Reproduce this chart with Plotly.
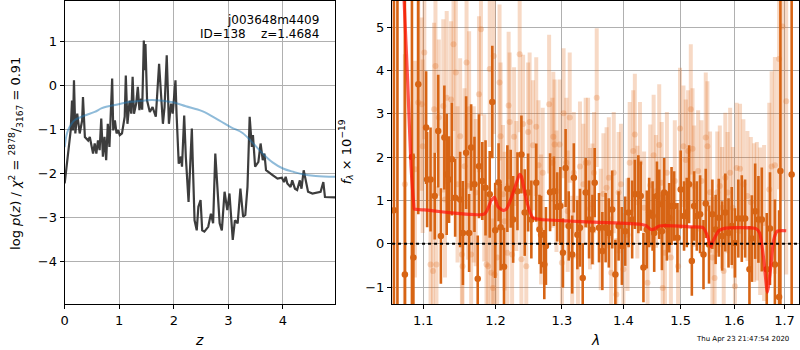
import plotly.graph_objects as go
import math

# ---------------- Left panel: log p(z) ----------------
z_pz = [0.00, 0.06, 0.11, 0.134, 0.15, 0.17, 0.195, 0.23, 0.275, 0.32, 0.335, 0.37, 0.43, 0.46, 0.49,
        0.52, 0.55, 0.58, 0.61, 0.64, 0.67, 0.70, 0.73, 0.76, 0.79, 0.82, 0.87, 0.89, 0.92, 0.95,
        0.98, 1.01, 1.05, 1.10, 1.12, 1.15, 1.19, 1.22, 1.245, 1.27, 1.31, 1.34, 1.37, 1.40, 1.42,
        1.45, 1.47, 1.48, 1.51, 1.56, 1.61, 1.67, 1.73, 1.76, 1.80, 1.83, 1.87, 1.91, 1.95, 1.98,
        2.03, 2.05, 2.09, 2.13, 2.15, 2.19, 2.22, 2.27, 2.29, 2.33, 2.35, 2.38, 2.42, 2.45, 2.49,
        2.52, 2.56, 2.63, 2.68, 2.72, 2.76, 2.80, 2.84, 2.88, 2.93, 2.98, 3.02, 3.08, 3.12, 3.17,
        3.22, 3.27, 3.31, 3.35, 3.39, 3.43, 3.45, 3.49, 3.55, 3.59, 3.63, 3.66, 3.69, 3.81, 3.90,
        3.98, 4.02, 4.05, 4.08, 4.14, 4.17, 4.22, 4.26, 4.31, 4.34, 4.38, 4.41, 4.46, 4.54, 4.69,
        4.74, 4.77, 4.96]
log_pz = [-2.23, -1.55, -1.02, -0.34, -1.02, 0.12, -1.09, -0.64, -1.09, -0.79, -0.26, -1.17, -1.25, -1.17, -1.40,
          -1.55, -1.32, -1.55, -1.25, -1.47, -0.75, -1.62, -1.17, -1.70, -0.87, -1.40, 0.16, -1.02, -0.79, -1.09,
          -1.02, -1.13, -1.09, -0.71, 0.23, -0.87, -0.34, -0.64, 0.20, -0.64, -0.41, -0.03, -0.56, -0.30, -0.55,
          1.03, 0.35, 0.95, -0.34, -0.60, -0.49, -0.71, 0.50, -0.03, -0.87, -0.49, 0.69, -0.87, -0.41, -0.64,
          0.12, -0.64, -1.78, -1.62, -1.85, -0.68, -1.62, -2.65, -2.16, -0.98, -1.85, -3.07, -3.30, -2.76, -2.61,
          -3.30, -3.33, -3.22, -2.92, -3.14, -1.55, -2.31, -3.14, -3.30, -2.42, -2.84, -2.46, -3.52, -3.07, -3.14,
          -2.35, -2.99, -2.95, -2.31, -0.71, -1.40, -1.13, -1.85, -1.74, -1.32, -1.70, -1.55, -1.93, -2.04, -2.12,
          -2.10, -2.20, -2.08, -2.23, -2.31, -2.16, -2.35, -2.38, -2.16, -2.35, -1.93, -2.12, -2.42, -2.46, -2.42,
          -2.20, -2.54, -2.55]

z_prior = [0.00, 0.03, 0.06, 0.12, 0.18, 0.37, 0.55, 0.67, 0.76, 0.92, 1.22, 1.47, 1.61, 1.98, 2.22,
           2.52, 2.83, 3.05, 3.26, 3.44, 3.63, 3.81, 4.00, 4.20, 4.36, 4.60, 4.96]
log_prior = [-1.40, -1.15, -1.02, -0.88, -0.79, -0.68, -0.60, -0.52, -0.48, -0.44, -0.37, -0.34, -0.33, -0.38, -0.47,
             -0.58, -0.79, -0.95, -1.08, -1.30, -1.55, -1.75, -1.89, -1.97, -2.02, -2.06, -2.08]

# ---------------- Right panel: spectrum ----------------
# dark (binned) spectrum
wave_dark = [1.0618, 1.0663, 1.0759, 1.0851, 1.0870, 1.0934, 1.1038, 1.1051, 1.1097, 1.1153, 1.1200, 1.1236, 1.1283,
             1.1315, 1.1347, 1.1385, 1.1431, 1.1500, 1.1538, 1.1583, 1.1625, 1.1653, 1.1700, 1.1746, 1.1764,
             1.1811, 1.1857, 1.1917, 1.1954, 1.1996, 1.2045, 1.2074, 1.2124, 1.2173, 1.2222, 1.2258, 1.2322,
             1.2381, 1.2430, 1.2481, 1.2530, 1.2604, 1.2653, 1.2678, 1.2727, 1.2752, 1.2816, 1.2875, 1.2926,
             1.2975, 1.3016, 1.3058, 1.3107, 1.3162, 1.3188, 1.3244, 1.3286, 1.3330, 1.3378, 1.3432, 1.3487,
             1.3524, 1.3594, 1.3649, 1.3703, 1.3756, 1.3812, 1.3865, 1.3919, 1.3974, 1.4030, 1.4088, 1.4148,
             1.4194, 1.4254, 1.4295, 1.4342, 1.4400, 1.4441, 1.4501, 1.4529, 1.4577, 1.4617, 1.4665, 1.4705,
             1.4753, 1.4794, 1.4836, 1.4882, 1.4942, 1.5000, 1.5061, 1.5110, 1.5153, 1.5203, 1.5245, 1.5295,
             1.5355, 1.5418, 1.5460, 1.5521, 1.5584, 1.5645, 1.5705, 1.5768, 1.5829, 1.5890, 1.5952, 1.6013,
             1.6079, 1.6146, 1.6211, 1.6296, 1.6343, 1.6408, 1.6473, 1.6540, 1.6639, 1.6704, 1.6803, 1.6888,
             1.6915, 1.7146]
flux_dark = [0.77, -3.0, -0.71, 2.0, -0.32, 3.68, 2.68, 1.48, 1.48, 1.10, 2.60, 0.18, 2.45,
             1.60, 1.48, 1.95, 1.06, 1.02, 0.25, 2.10, 0.25, 2.22, 1.37, -0.81, 1.79,
             1.45, 1.29, 1.14, 3.27, 0.31, 1.42, 0.38, -0.53, 1.27, 1.27, 0.56, 1.21,
             2.06, 0.72, 1.18, 0.56, 1.41, 0.33, 0.21, -0.48, -0.05, 1.19, 1.21, 0.85,
             0.87, -0.21, 1.75, 0.41, -0.25, 1.52, 0.21, 0.37, -0.79, 1.18, 0.56, 0.33,
             1.41, 0.37, -0.17, 0.37, 0.25, 0.79, -0.71, 0.41, -0.05, 0.29, 0.72, 0.56,
             1.14, 1.14, 1.10, -0.55, 0.33, 0.72, 0.64, 0.25, 1.10, 0.91, 0.29, 1.18,
             0.41, 0.60, 0.87, 0.87, 0.14, 1.25, 0.64, 0.72, 1.37, -0.40, 0.87, 0.64,
             0.68, -0.25, 0.93, -0.02, 0.68, 0.33, 0.60, 0.18, 0.72, 0.25, 0.41, 0.02,
             0.58, 0.58, 0.58, -0.59, 0.12, 0.75, 0.56, 0.56, -0.59, 0.35, -0.48, -1.23,
             1.68, 1.60]
err_dark = [10.0, 10.0, 10.0, 10.0, 2.4, 3.0, 1.3, 1.1, 1.2, 1.0, 1.3, 1.1, 1.2,
            1.4, 1.0, 1.3, 0.9, 1.1, 1.2, 1.3, 0.9, 1.0, 1.1, 1.0, 1.2,
            0.9, 1.1, 1.0, 1.3, 1.1, 0.9, 1.0, 0.9, 1.0, 0.9, 1.0, 0.9,
            0.9, 1.0, 0.9, 0.9, 0.9, 0.8, 0.9, 0.8, 0.9, 0.9, 0.8, 0.8,
            0.9, 0.8, 0.9, 0.8, 0.9, 0.8, 0.8, 0.9, 0.8, 0.8, 0.9, 0.8,
            0.8, 0.8, 0.9, 0.8, 0.8, 0.9, 0.8, 0.8, 0.9, 0.8, 0.8, 0.9,
            0.8, 0.9, 0.8, 0.8, 0.9, 0.8, 0.8, 0.9, 0.8, 0.8, 0.9, 0.8,
            0.8, 0.8, 0.9, 0.8, 0.8, 0.9, 0.8, 0.8, 0.9, 0.8, 0.8, 0.8,
            0.9, 0.8, 0.8, 0.9, 0.8, 0.8, 0.9, 0.8, 0.9, 0.8, 0.9, 0.8,
            0.9, 1.0, 0.9, 1.0, 1.0, 1.1, 1.0, 1.2, 1.3, 1.3, 1.5, 2.0,
            4.5, 10.0]

# light (unbinned / second PA) spectrum
wave_light = [1.0759, 1.0891, 1.0934, 1.0979, 1.0992, 1.1014, 1.1097, 1.1130, 1.1144, 1.1163, 1.1176, 1.1208,
              1.1269, 1.1292, 1.1315, 1.1375, 1.1408, 1.1440, 1.1464, 1.1500, 1.1524, 1.1533, 1.1561, 1.1589,
              1.1607, 1.1625, 1.1653, 1.1690, 1.1718, 1.1764, 1.1792, 1.1839, 1.1871, 1.1894, 1.1917, 1.1940,
              1.1964, 1.1975, 1.1986, 1.2025, 1.2059, 1.2074, 1.2109, 1.2133, 1.2173, 1.2192, 1.2207, 1.2243,
              1.2272, 1.2306, 1.2355, 1.2381, 1.2406, 1.2454, 1.2481, 1.2504, 1.2554, 1.2604, 1.2638, 1.2678,
              1.2703, 1.2801, 1.2852, 1.2866, 1.2886, 1.2915, 1.2964, 1.3000, 1.3026, 1.3070, 1.3091, 1.3123,
              1.3162, 1.3188, 1.3253, 1.3286, 1.3341, 1.3378, 1.3416, 1.3448, 1.3487, 1.3513, 1.3557, 1.3622,
              1.3666, 1.3719, 1.3756, 1.3795, 1.3838, 1.3881, 1.3919, 1.3958, 1.4000, 1.4070, 1.4106, 1.4166,
              1.4194, 1.4237, 1.4282, 1.4353, 1.4413, 1.4459, 1.4519, 1.4560, 1.4617, 1.4661, 1.4678, 1.4719,
              1.4753, 1.4824, 1.4894, 1.4953, 1.4988, 1.5050, 1.5092, 1.5135, 1.5184, 1.5216, 1.5245, 1.5319,
              1.5381, 1.5460, 1.5491, 1.5540, 1.5584, 1.5626, 1.5676, 1.5724, 1.5768, 1.5798, 1.5829, 1.5872,
              1.5921, 1.5972, 1.6013, 1.6047, 1.6112, 1.6177, 1.6256, 1.6323, 1.6388, 1.6441, 1.6507, 1.6586,
              1.6690, 1.6738, 1.6803, 1.6888, 1.6955, 1.7034]
flux_light = [1.37, 1.72, 3.26, 3.22, 2.25, 4.41, -0.48, -0.63, 3.10, 4.10, -0.48, 2.91,
              3.18, 1.02, 3.37, 3.33, 4.60, 3.95, 1.37, 2.48, -0.25, -0.52, 1.79, 4.18,
              1.33, 3.10, -0.25, 1.37, 1.18, 3.45, 4.95, 1.29, -0.48, -0.52, 4.03, -0.67,
              -1.02, 4.33, -0.71, -0.32, 3.72, 2.48, 1.14, 0.52, -0.21, 3.19, 2.81, -0.25,
              2.47, 1.33, 4.37, -0.36, 2.76, -0.52, 2.58, 2.81, 2.27, 2.70, 1.81, 0.56,
              1.64, 3.22, 1.87, 2.47, 2.29, 1.21, 2.29, -0.44, 3.01, 1.87, 0.75, 2.91,
              -0.29, 1.64, -0.29, 1.78, 1.37, 1.87, 1.87, 0.81, 0.91, 1.64, 3.37, 0.33,
              1.15, 1.29, 1.52, -0.67, 1.64, -1.17, 1.18, 1.37, -0.59, 0.21, 1.87, 2.14,
              2.52, 0.96, 1.87, 0.83, -0.90, 1.35, 2.04, 1.21, 2.28, 1.41, -1.02, -0.21,
              1.64, -0.32, 1.45, -0.52, 2.66, 2.25, 1.93, 2.14, 3.10, 2.19, 1.33, 1.68,
              1.45, 2.45, 2.25, 1.19, -0.32, -0.79, 1.19, 1.33, 0.83, -0.63, 1.52, 1.18,
              1.64, 0.83, -0.98, 1.75, 1.73, 1.37, 1.10, 0.96, 0.72, 0.75, 0.52, 0.48,
              1.25, 1.78, 1.81, 4.26, 5.01, 3.29]
err_light = [3.0, 2.5, 2.5, 2.0, 2.0, 2.0, 2.0, 1.8, 2.0, 2.0, 1.8, 1.8,
             2.0, 1.8, 2.0, 1.8, 2.0, 2.0, 1.8, 1.8, 1.7, 1.8, 1.8, 2.0,
             1.7, 1.8, 1.7, 1.8, 1.7, 1.8, 2.0, 1.7, 1.7, 1.6, 1.8, 1.6,
             1.6, 1.8, 1.6, 1.6, 1.8, 1.7, 1.6, 1.6, 1.6, 1.7, 1.6, 1.6,
             1.6, 1.5, 1.8, 1.5, 1.6, 1.5, 1.6, 1.6, 1.5, 1.6, 1.5, 1.5,
             1.5, 1.6, 1.5, 1.5, 1.5, 1.4, 1.5, 1.4, 1.5, 1.5, 1.4, 1.5,
             1.4, 1.4, 1.4, 1.5, 1.4, 1.5, 1.5, 1.4, 1.4, 1.4, 1.6, 1.4,
             1.4, 1.4, 1.4, 1.3, 1.4, 1.3, 1.4, 1.4, 1.3, 1.3, 1.4, 1.4,
             1.4, 1.3, 1.4, 1.3, 1.3, 1.4, 1.4, 1.3, 1.4, 1.4, 1.3, 1.3,
             1.4, 1.3, 1.4, 1.3, 1.4, 1.4, 1.4, 1.4, 1.5, 1.4, 1.4, 1.4,
             1.4, 1.5, 1.5, 1.4, 1.4, 1.4, 1.4, 1.4, 1.4, 1.4, 1.5, 1.4,
             1.5, 1.4, 1.4, 1.5, 1.5, 1.5, 1.5, 1.5, 1.6, 1.6, 1.7, 1.8,
             2.0, 2.2, 2.5, 3.0, 4.0, 4.0]

# best-fit model
wave_model = [1.0740, 1.0752, 1.0796, 1.0839, 1.0874, 1.0882, 1.0926, 1.1014, 1.1843, 1.1940, 1.1986, 1.2034,
              1.2109, 1.2158, 1.2232, 1.2306, 1.2355, 1.2381, 1.2430, 1.2504, 1.2554, 1.2678, 1.3508, 1.4295,
              1.4383, 1.4471, 1.4529, 1.4617, 1.5184, 1.5413, 1.5491, 1.5553, 1.5613, 1.5705, 1.5829, 1.6425,
              1.6496, 1.6580, 1.6651, 1.6721, 1.6779, 1.6851, 1.7034]
flux_model = [6.00, 5.49, 3.72, 1.79, 0.92, 0.80, 0.79, 0.78, 0.69, 1.00, 1.07, 0.86,
              0.77, 0.80, 1.06, 1.40, 1.60, 1.55, 1.18, 0.75, 0.60, 0.56, 0.50, 0.45,
              0.42, 0.33, 0.34, 0.41, 0.39, 0.37, 0.18, -0.07, 0.10, 0.30, 0.36, 0.35,
              0.25, -0.37, -1.12, -0.52, 0.09, 0.29, 0.30]

x_ticks_right = [1.1, 1.2, 1.3, 1.4, 1.5, 1.6, 1.7]
x_ticks_left = [0, 1, 2, 3, 4]
y_ticks_left = [-4, -3, -2, -1, 0, 1]
y_ticks_right = [-1, 0, 1, 2, 3, 4, 5]

DARK = "rgb(215,100,20)"
LIGHT = "rgba(225,110,30,0.26)"

fig = go.Figure()

# left panel
fig.add_trace(go.Scatter(x=z_pz, y=log_pz, mode="lines", line=dict(color="rgba(45,45,45,0.92)", width=2.2),
                         xaxis="x", yaxis="y", showlegend=False, hoverinfo="skip"))
fig.add_trace(go.Scatter(x=z_prior, y=log_prior, mode="lines", line=dict(color="rgba(31,119,180,0.5)", width=2, shape="spline"),
                         xaxis="x", yaxis="y", showlegend=False, hoverinfo="skip"))

# right panel
fig.add_trace(go.Scatter(x=wave_light, y=flux_light, mode="markers",
                         marker=dict(color=LIGHT, size=6),
                         error_y=dict(type="data", array=err_light, color=LIGHT, thickness=4, width=0),
                         xaxis="x2", yaxis="y2", showlegend=False, hoverinfo="skip"))
fig.add_trace(go.Scatter(x=wave_dark, y=flux_dark, mode="markers",
                         marker=dict(color=DARK, size=6.5),
                         error_y=dict(type="data", array=err_dark, color=DARK, thickness=2.6, width=0),
                         xaxis="x2", yaxis="y2", showlegend=False, hoverinfo="skip"))
fig.add_trace(go.Scatter(x=wave_model, y=flux_model, mode="lines",
                         line=dict(color="rgba(255,20,10,0.72)", width=3.2, shape="spline", smoothing=0.6),
                         xaxis="x2", yaxis="y2", showlegend=False, hoverinfo="skip"))

fig.add_shape(type="line", xref="x2 domain", yref="y2", x0=0, x1=1, y0=0, y1=0,
              line=dict(color="black", width=2, dash="dot"), layer="above")

ax_common = dict(showline=True, linecolor="black", linewidth=1.2, mirror=True,
                 showgrid=True, gridcolor="#b0b0b0", gridwidth=1,
                 ticks="outside", ticklen=4, tickcolor="black", tickwidth=1,
                 zeroline=False, tickfont=dict(family="DejaVu Sans", size=13, color="black"))

ydom = [1 - 304 / 350, 1 - 1 / 350]
fig.update_layout(
    width=800, height=350,
    margin=dict(l=0, r=0, t=0, b=0),
    paper_bgcolor="white", plot_bgcolor="white",
    font=dict(family="DejaVu Sans", size=13, color="black"),
    xaxis=dict(domain=[61 / 800, 333 / 800], range=[0, 4.96], tickvals=x_ticks_left, anchor="y", **ax_common),
    yaxis=dict(domain=ydom, range=[-4.98, 1.93], tickvals=y_ticks_left, anchor="x", **ax_common),
    xaxis2=dict(domain=[390 / 800, 798.5 / 800], type="log",
                range=[math.log10(1.0594), math.log10(1.7288)],
                tickvals=x_ticks_right, ticktext=[str(v) for v in x_ticks_right], anchor="y2", **ax_common),
    yaxis2=dict(domain=ydom, range=[-1.39, 5.6], tickvals=y_ticks_right, anchor="x2", **ax_common),
)

ann = []
ann.append(dict(text="j003648m4409", xref="paper", yref="paper", x=319 / 800, y=1 - 20 / 350,
                xanchor="right", yanchor="middle", showarrow=False, font=dict(size=12)))
ann.append(dict(text="ID=138    z=1.4684", xref="paper", yref="paper", x=319 / 800, y=1 - 34 / 350,
                xanchor="right", yanchor="middle", showarrow=False, font=dict(size=12)))
ann.append(dict(text="<i>z</i>", xref="paper", yref="paper", x=196 / 800, y=1 - 340 / 350,
                xanchor="center", yanchor="middle", showarrow=False, font=dict(size=14)))
ann.append(dict(text="<i>λ</i>", xref="paper", yref="paper", x=594 / 800, y=1 - 340 / 350,
                xanchor="center", yanchor="middle", showarrow=False, font=dict(size=14)))
ann.append(dict(text="log <i>p</i>(<i>z</i>) / <i>χ</i><sup>2</sup> = <sup>2878</sup>/<sub>3167</sub> = 0.91",
                xref="paper", yref="paper", x=12 / 800, y=1 - 153 / 350, textangle=-90,
                xanchor="center", yanchor="middle", showarrow=False, font=dict(size=13)))
ann.append(dict(text="<i>f</i><sub><i>λ</i></sub> × 10<sup>−19</sup>",
                xref="paper", yref="paper", x=344 / 800, y=1 - 152 / 350, textangle=-90,
                xanchor="center", yanchor="middle", showarrow=False, font=dict(size=13)))
ann.append(dict(text="Thu Apr 23 21:47:54 2020", xref="paper", yref="paper", x=742 / 800, y=1 - 339 / 350,
                xanchor="center", yanchor="middle", showarrow=False, font=dict(size=7)))
fig.update_layout(annotations=ann)

fig.write_html("out.html", config={"displayModeBar": False},
               post_script="document.body.style.margin='0px';document.body.style.padding='0px';"
                           "document.body.style.overflow='hidden';")
